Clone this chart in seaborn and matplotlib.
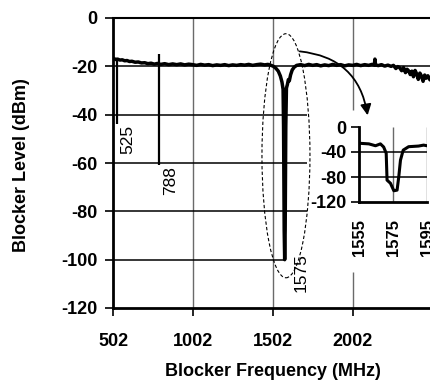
import matplotlib
matplotlib.use("Agg")
import matplotlib.pyplot as plt
from matplotlib.patches import Ellipse
import seaborn as sns

# main sweep (MHz, dBm)
freq_main = [502, 510, 520, 530, 545, 560, 575, 590, 605, 620, 640, 660, 680, 700, 720, 740, 760, 780,
             800, 825, 850, 875, 900, 925, 950, 975, 1000, 1025, 1050, 1075, 1100, 1125, 1150, 1175,
             1200, 1225, 1250, 1275, 1300, 1325, 1350, 1375, 1400, 1425, 1450, 1470, 1490, 1505, 1520,
             1535, 1548, 1558, 1565, 1568, 1572, 1575, 1578, 1582, 1586, 1592, 1598, 1604, 1612, 1622,
             1635, 1650, 1675, 1700, 1725, 1750, 1775, 1800, 1825, 1850, 1875, 1900, 1925, 1950, 1975,
             2000, 2025, 2050, 2075, 2100, 2120, 2135, 2139, 2143, 2160, 2180, 2200, 2220, 2240, 2255,
             2270, 2282, 2294, 2306, 2318, 2330, 2340, 2350, 2360, 2370, 2380, 2390, 2400, 2410, 2420,
             2430, 2440, 2450, 2460, 2470, 2483]
level_main = [-16.6, -16.9, -17.2, -17.0, -17.4, -17.3, -17.7, -17.6, -18.0, -17.9, -18.3, -18.2, -18.6,
              -18.5, -18.9, -18.7, -19.1, -18.8, -19.2, -18.9, -19.3, -19.0, -19.3, -19.0, -19.4, -19.1,
              -19.3, -19.6, -19.2, -19.5, -19.3, -19.7, -19.4, -19.6, -19.3, -19.7, -19.4, -19.6, -19.3,
              -19.5, -19.2, -19.6, -19.3, -19.1, -19.4, -19.2, -19.6, -20.0, -20.8, -22.0, -24.0, -26.5,
              -29.5, -45, -88, -100, -88, -45, -29.0, -27.5, -25.5, -26.0, -23.5, -21.5, -20.3, -19.6,
              -19.3, -19.7, -19.2, -19.6, -19.3, -19.8, -19.4, -19.7, -19.2, -19.6, -19.3, -19.8, -19.4,
              -19.6, -19.2, -19.7, -19.3, -19.6, -19.2, -19.5, -17.0, -19.4, -19.7, -19.3, -19.9, -19.5,
              -20.0, -19.6, -20.9, -20.1, -20.6, -21.8, -20.5, -22.6, -21.2, -21.9, -23.4, -22.0, -24.3,
              -21.7, -23.1, -25.4, -22.8, -24.0, -26.2, -23.6, -24.9, -23.9, -25.6]

# spurious blockers
spur_freq = [525, 788]
spur_top = [-17, -15]
spur_bottom = [-44, -61]
notch_freq = 1575
notch_level = -100

# zoomed view around the GPS band
freq_zoom = [1555, 1560.8, 1564.7, 1567.6, 1569.5, 1571, 1571.5, 1573.5, 1575.5, 1577.4, 1578.4,
             1579.4, 1581, 1584.2, 1590, 1593, 1595]
level_zoom = [-26, -27, -30, -27, -32, -42, -85, -90, -102, -101, -79.5, -53, -37, -31.5, -30.5, -29, -30]

main_xticks = [502, 1002, 1502, 2002]
main_yticks = [0, -20, -40, -60, -80, -100, -120]
zoom_xticks = [1555, 1575, 1595]
zoom_yticks = [0, -40, -80, -120]

sns.set_theme(style="white")
plt.rcParams['font.family'] = ['Liberation Sans', 'DejaVu Sans']
plt.rcParams['text.color'] = 'black'
plt.rcParams['xtick.color'] = 'black'
plt.rcParams['ytick.color'] = 'black'

fig = plt.figure(figsize=(4.3, 3.84), dpi=100)
ax = fig.add_axes([113 / 430, 76 / 384, 320 / 430, 290 / 384])

# grid drawn by hand so the inset area stays clear
grid_gray = "#6a6a6a"
ax.vlines([1002, 1502], -120, 0, color=grid_gray, lw=1.0, zorder=1)
ax.vlines(2002, -38, 0, color=grid_gray, lw=1.0, zorder=1)
ax.vlines(2002, -120, -105, color=grid_gray, lw=1.0, zorder=1)
ax.hlines(-20, 502, 2502, color="black", lw=1.1, zorder=1)
ax.hlines([-40, -60, -80], 502, 1714, color="black", lw=1.1, zorder=1)
ax.hlines(-100, 502, notch_freq, color="black", lw=1.1, zorder=1)

sns.lineplot(x=freq_main, y=level_main, ax=ax, color="black", lw=2.5, sort=False, estimator=None, zorder=3)
ax.vlines(spur_freq, spur_bottom, spur_top, color="black", lw=1.6, zorder=3)
ax.vlines(notch_freq, notch_level, -85, color="black", lw=1.2, zorder=3)

for f, b in zip(spur_freq, spur_bottom):
    ax.annotate(str(f), xy=(f, b), xytext=(4, -1), textcoords="offset pixels", rotation=90,
                ha="left", va="top", fontsize=12.5, color="black")
ax.annotate(str(notch_freq), xy=(notch_freq, notch_level), xytext=(9, 7), textcoords="offset pixels",
            rotation=90, ha="left", va="top", fontsize=12.5, color="black")

ax.add_patch(Ellipse((1583, -57), width=300, height=101, fill=False, ec="black", lw=0.8,
                     ls=(0, (3, 2)), zorder=4))
ax.annotate("", xy=(2096, -41.4), xytext=(1652, -13.7),
            arrowprops=dict(arrowstyle="-|>", connectionstyle="arc3,rad=-0.4", color="black",
                            lw=1.3, mutation_scale=16), zorder=5)

ax.set_xlim(502, 2502)
ax.set_ylim(-120, 0)
ax.set_xticks(main_xticks)
ax.set_xticklabels([str(t) for t in main_xticks], fontweight="bold", fontsize=13)
ax.set_yticks(main_yticks)
ax.set_yticklabels([str(t) for t in main_yticks], fontweight="bold", fontsize=13)
ax.tick_params(axis="y", direction="out", length=6, width=1.2, color="black", pad=5, left=True)
ax.tick_params(axis="x", direction="out", length=6, width=1.2, color="black", pad=12, bottom=True)
for side in ["left", "bottom"]:
    ax.spines[side].set_color("black")
    ax.spines[side].set_linewidth(2.0)
ax.spines["top"].set_color("black")
ax.spines["top"].set_linewidth(1.5)
ax.spines["right"].set_visible(False)
ax.set_xlabel("")
ax.set_ylabel("")

fig.text(22 / 430, 1 - 165 / 384, "Blocker Level (dBm)", rotation=90, ha="center", va="center",
         fontsize=13, fontweight="bold", color="black")
fig.text(273 / 430, 1 - 372 / 384, "Blocker Frequency (MHz)", ha="center", va="center",
         fontsize=13, fontweight="bold", color="black")

# inset
axi = fig.add_axes([359 / 430, 1 - 202 / 384, 68 / 430, 75 / 384])
axi.vlines(zoom_xticks[1:], -120, 0, color=grid_gray, lw=1.0, zorder=1)
axi.hlines([-40, -80], 1555, 1595, color="black", lw=1.1, zorder=1)
sns.lineplot(x=freq_zoom, y=level_zoom, ax=axi, color="black", lw=2.2, sort=False, estimator=None, zorder=3)
axi.set_xlim(1555, 1595)
axi.set_ylim(-120, 0)
axi.set_xticks(zoom_xticks)
axi.set_xticklabels([str(t) for t in zoom_xticks], rotation=90, fontweight="bold", fontsize=12)
axi.set_yticks(zoom_yticks)
axi.set_yticklabels([str(t) for t in zoom_yticks], fontweight="bold", fontsize=13)
axi.tick_params(axis="y", direction="out", length=6, width=1.2, color="black", pad=3, left=True)
axi.tick_params(axis="x", length=0, pad=12)
for side in ["left", "bottom"]:
    axi.spines[side].set_color("black")
    axi.spines[side].set_linewidth(2.0)
axi.spines["top"].set_visible(False)
axi.spines["right"].set_visible(False)
axi.set_xlabel("")
axi.set_ylabel("")

fig.savefig("out.png", dpi=100)
